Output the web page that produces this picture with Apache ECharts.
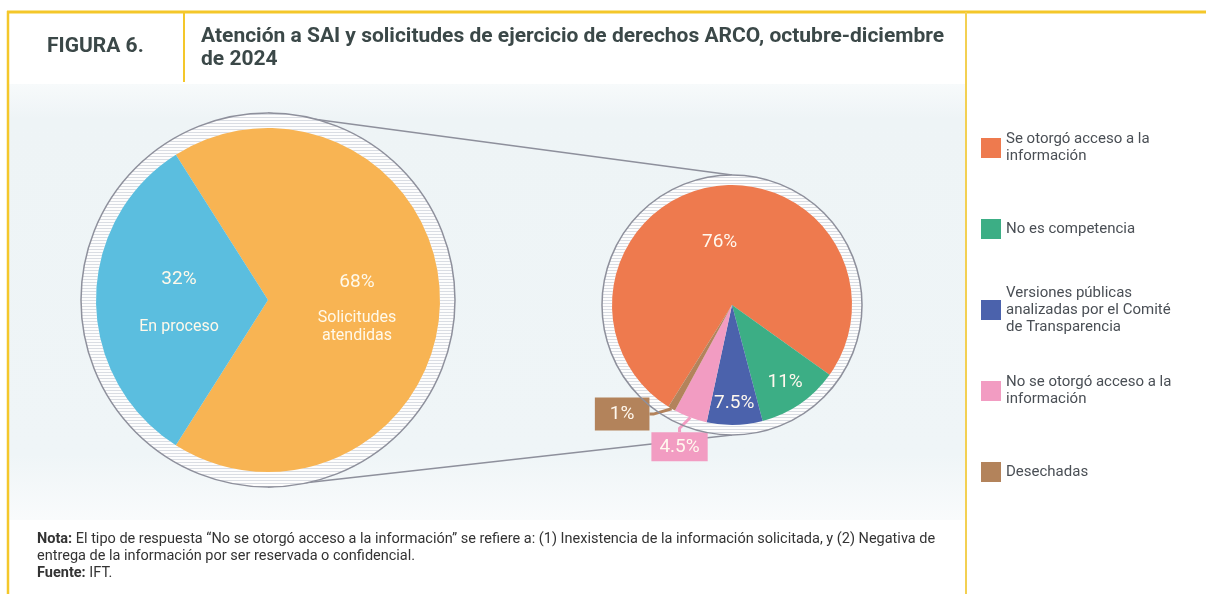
<!DOCTYPE html>
<html lang="es">
<head>
<meta charset="UTF-8">
<title>Figura 6 - Atención a SAI y solicitudes ARCO</title>
<script src="https://cdn.jsdelivr.net/npm/echarts/dist/echarts.min.js"></script>
<style>
  html, body { margin: 0; padding: 0; background: #fff; }
  #chart { width: 1206px; height: 594px; }
</style>
</head>
<body>
<div id="chart"></div>
<script>
// Datos
var solicitudesNombres = ['Solicitudes atendidas', 'En proceso'];
var solicitudesValores = [68, 32];
var solicitudesEtiquetas = [['Solicitudes', 'atendidas'], ['En proceso']];

var respuestasNombres = [
  'Se otorgó acceso a la información',
  'No es competencia',
  'Versiones públicas analizadas por el Comité de Transparencia',
  'No se otorgó acceso a la información',
  'Desechadas'
];
var respuestasValores = [76, 11, 7.5, 4.5, 1];
var respuestasLeyenda = [
  'Se otorgó acceso a la\ninformación',
  'No es competencia',
  'Versiones públicas\nanalizadas por el Comité\nde Transparencia',
  'No se otorgó acceso a la\ninformación',
  'Desechadas'
];

var coloresIzq = ['#F8B453', '#5BBEDF'];
var coloresDer = ['#EE7A4E', '#3CAE85', '#4B62AC', '#F29CC2', '#B3835B'];

var chart = echarts.init(document.getElementById('chart'));

// geometría
var izq = { cx: 268, cy: 300, r: 172, ring: 187 };
var der = { cx: 732, cy: 305, r: 120, ring: 130 };
var derStart = 238;
var amarillo = '#F4C72A';
var gris = '#8e909c';
var fuente = 'Roboto, "Noto Sans", sans-serif';

// posición de etiquetas del pie derecho (fracción de radio, giro en grados)
var labR = [0.53, 0.78, 0.82, 1.26, 1.29];
var labShift = [0, 0, 0, 0, -15];

function midAngle(i) {
  var total = respuestasValores.reduce(function (a, b) { return a + b; }, 0);
  var cum = 0;
  for (var k = 0; k < i; k++) cum += respuestasValores[k];
  return derStart - (cum + respuestasValores[i] / 2) / total * 360;
}

var totalIzq = solicitudesValores[0] + solicitudesValores[1];
var izqStart = 180 - solicitudesValores[1] / totalIzq * 180;

var decalRayas = {
  symbol: 'rect', symbolSize: 1,
  dashArrayX: [1, 0], dashArrayY: [1, 2],
  color: '#dadde3'
};

var legends = respuestasNombres.map(function (n, i) {
  var lines = respuestasLeyenda[i].split('\n').length;
  var h = Math.max(20, lines * 17);
  return {
    data: [n],
    left: 981,
    top: 148 + i * 81 - h / 2,
    padding: 0,
    itemWidth: 20, itemHeight: 20,
    icon: 'rect',
    selectedMode: false,
    formatter: function () { return respuestasLeyenda[i]; },
    textStyle: { fontFamily: fuente, fontSize: 15, lineHeight: 17, color: '#4a4f55' }
  };
});

var option = {
  animation: false,
  color: coloresDer,
  legend: legends,
  graphic: [
    // fondos
    { type: 'rect', z: -20, shape: { x: 9, y: 84, width: 956, height: 436 },
      style: { fill: new echarts.graphic.LinearGradient(0, 0, 0, 1, [
        { offset: 0, color: '#f7fafb' }, { offset: 0.08, color: '#eef4f6' },
        { offset: 0.85, color: '#eff5f7' }, { offset: 1, color: '#f9fbfc' }]) } },
    // marco amarillo
    { type: 'line', z: 10, shape: { x1: 7, y1: 12, x2: 1206, y2: 12 }, style: { stroke: amarillo, lineWidth: 3 } },
    { type: 'line', z: 10, shape: { x1: 8, y1: 11, x2: 8, y2: 594 }, style: { stroke: amarillo, lineWidth: 2.5 } },
    { type: 'line', z: 10, shape: { x1: 184, y1: 12, x2: 184, y2: 82 }, style: { stroke: amarillo, lineWidth: 2 } },
    { type: 'line', z: 10, shape: { x1: 966, y1: 12, x2: 966, y2: 594 }, style: { stroke: '#F3D052', lineWidth: 2 } },
    // encabezado
    { type: 'text', left: 47, top: 36, style: { text: 'FIGURA 6.', font: 'bold 21px ' + fuente, fill: '#3b4848' } },
    { type: 'text', left: 201, top: 25, style: {
        text: 'Atención a SAI y solicitudes de ejercicio de derechos ARCO, octubre-diciembre\nde 2024',
        font: 'bold 21px ' + fuente, lineHeight: 23, fill: '#3b4848' } },
    // líneas de ampliación
    { type: 'line', z: 1, shape: { x1: izq.cx, y1: izq.cy - izq.ring, x2: der.cx, y2: der.cy - der.ring },
      style: { stroke: gris, lineWidth: 1.5 } },
    { type: 'line', z: 1, shape: { x1: izq.cx, y1: izq.cy + izq.ring, x2: der.cx, y2: der.cy + der.ring },
      style: { stroke: gris, lineWidth: 1.5 } },
    // contornos
    { type: 'circle', z: 5, shape: { cx: izq.cx, cy: izq.cy, r: izq.ring }, style: { fill: null, stroke: gris, lineWidth: 1.5 } },
    { type: 'circle', z: 5, shape: { cx: der.cx, cy: der.cy, r: der.ring }, style: { fill: null, stroke: gris, lineWidth: 1.5 } },
    // nota
    { type: 'text', left: 37, top: 531, style: {
        text: '{b|Nota:} El tipo de respuesta “No se otorgó acceso a la información” se refiere a: (1) Inexistencia de la información solicitada, y (2) Negativa de\nentrega de la información por ser reservada o confidencial.\n{b|Fuente:} IFT.',
        font: '14.5px ' + fuente, lineHeight: 17, fill: '#333',
        rich: { b: { fontWeight: 'bold', fontSize: 14.5, fontFamily: 'Roboto', fill: '#333', lineHeight: 17 } } } }
  ],
  series: [
    {
      type: 'pie', silent: true, z: 1,
      center: [izq.cx, izq.cy], radius: [izq.r, izq.ring],
      label: { show: false }, labelLine: { show: false },
      data: [{ value: 1, name: 'anilloIzq', itemStyle: { color: '#fdfdfd', decal: decalRayas } }]
    },
    {
      type: 'pie', silent: true, z: 1,
      center: [der.cx, der.cy], radius: [der.r, der.ring],
      label: { show: false }, labelLine: { show: false },
      data: [{ value: 1, name: 'anilloDer', itemStyle: { color: '#fdfdfd', decal: decalRayas } }]
    },
    {
      type: 'pie', silent: true, z: 3,
      center: [izq.cx, izq.cy], radius: [0, izq.r],
      startAngle: izqStart, clockwise: true,
      data: solicitudesNombres.map(function (n, i) {
        return { name: n, value: solicitudesValores[i], itemStyle: { color: coloresIzq[i] } };
      }),
      label: {
        show: true, position: 'inside',
        formatter: function (p) {
          var lines = solicitudesEtiquetas[p.dataIndex];
          if (lines.length > 1) return '{p2|' + p.value + '%}\n' + lines.map(function (l) { return '{n|' + l + '}'; }).join('\n');
          return '{p1|' + p.value + '%}\n{g|}\n{n|' + lines[0] + '}';
        },
        rich: {
          p1: { fontFamily: fuente, fontSize: 19, lineHeight: 30, color: '#fff9ea' },
          p2: { fontFamily: fuente, fontSize: 19, lineHeight: 54, color: '#fff9ea' },
          g: { lineHeight: 23, height: 23 },
          n: { fontFamily: fuente, fontSize: 16, lineHeight: 18, color: '#fff9ea' }
        }
      },
      labelLine: { show: false }
    },
    {
      type: 'pie', silent: true, z: 3,
      center: [der.cx, der.cy], radius: [0, der.r],
      startAngle: derStart, clockwise: true,
      data: respuestasNombres.map(function (n, i) {
        var small = i >= 3;
        return {
          name: n, value: respuestasValores[i],
          itemStyle: { color: coloresDer[i] },
          label: small ? {
            position: 'outside', backgroundColor: coloresDer[i], color: '#fff8ee',
            padding: i === 4 ? [7, 15] : [5, 8]
          } : { position: 'inside' },
          labelLine: small ? { show: true, length: 4, length2: 4, lineStyle: { color: coloresDer[i], width: 3 } } : { show: false }
        };
      }),
      label: {
        show: true, fontFamily: fuente, fontSize: 19, color: '#fff8ee',
        formatter: function (p) { return p.value + '%'; }
      },
      labelLayout: function (p) {
        var i = p.dataIndex;
        var a = (midAngle(i) + labShift[i]) * Math.PI / 180;
        var rr = der.r * labR[i];
        return {
          x: der.cx + rr * Math.cos(a),
          y: der.cy - rr * Math.sin(a),
          align: 'center', verticalAlign: 'middle'
        };
      }
    }
  ]
};

chart.setOption(option);
</script>
</body>
</html>
